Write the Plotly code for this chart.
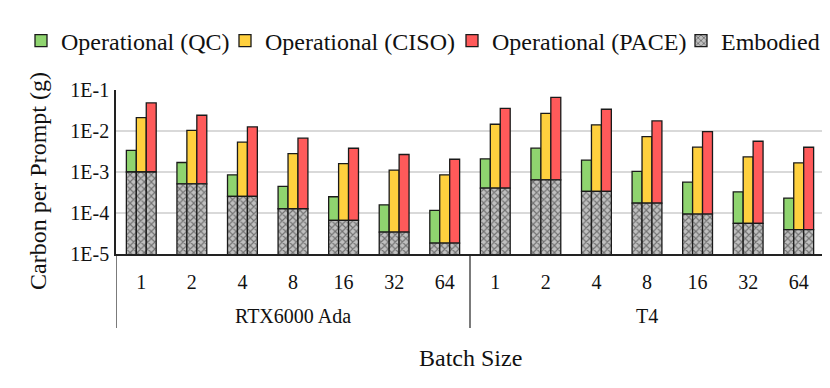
import plotly.graph_objects as go

# GPU / batch size categories
gpus = ["RTX6000 Ada", "T4"]
batch_sizes = ["1", "2", "4", "8", "16", "32", "64"]

# embodied carbon per prompt (g), per batch size
emb_rtx = [1.0e-3, 5.15e-4, 2.54e-4, 1.27e-4, 6.6e-5, 3.43e-5, 1.85e-5]
emb_t4 = [4.04e-4, 6.45e-4, 3.35e-4, 1.74e-4, 9.41e-5, 5.57e-5, 3.91e-5]

# operational carbon per prompt (g), stacked on top of embodied
qc_rtx = [2.37e-3, 1.19e-3, 5.99e-4, 3.17e-4, 1.83e-4, 1.24e-4, 9.75e-5]
qc_t4 = [1.69e-3, 3.16e-3, 1.61e-3, 8.56e-4, 4.72e-4, 2.73e-4, 1.92e-4]
ciso_rtx = [2.02e-2, 9.89e-3, 5.07e-3, 2.69e-3, 1.54e-3, 1.08e-3, 8.35e-4]
ciso_t4 = [1.42e-2, 2.64e-2, 1.38e-2, 7.14e-3, 3.93e-3, 2.28e-3, 1.63e-3]
pace_rtx = [4.73e-2, 2.37e-2, 1.23e-2, 6.54e-3, 3.73e-3, 2.64e-3, 2.03e-3]
pace_t4 = [3.54e-2, 6.58e-2, 3.36e-2, 1.74e-2, 9.59e-3, 5.56e-3, 3.98e-3]

tick_vals = [1e-5, 1e-4, 1e-3, 1e-2, 1e-1]
tick_text = ["1E-5", "1E-4", "1E-3", "1E-2", "1E-1"]

FONT = "Liberation Serif"
# the page body has an 8px margin, so the figure is drawn 8px in from the window corner
OFF = 8
W, H = 830 - OFF, 388 - OFF
L, R, T, B = 116 - OFF, 6, 90 - OFF, 388 - 254
plot_h = H - T - B
plot_w = W - L - R


# convert window pixel positions to paper fractions
def px_x(px):
    return (px - OFF - L) / plot_w


def px_y(py):
    return (H - B - (py - OFF)) / plot_h


n = len(batch_sizes)
xpos = list(range(n * len(gpus)))
emb = emb_rtx + emb_t4

series = [
    ("Operational (QC)", qc_rtx + qc_t4, "#8fd46f"),
    ("Operational (CISO)", ciso_rtx + ciso_t4, "#ffd03e"),
    ("Operational (PACE)", pace_rtx + pace_t4, "#ff5a5a"),
]
# left edge of the text of each legend entry (window px)
legend_text_x = [62, 266, 493, 722]
legend_ids = ["legend", "legend2", "legend3", "legend4"]

fig = go.Figure()

for i, (name, vals, color) in enumerate(series):
    fig.add_trace(go.Bar(
        x=xpos, y=vals, base=emb, name=name, offsetgroup=str(i),
        marker=dict(color=color, line=dict(color="#1a1a1a", width=1.3)),
        legend=legend_ids[i], showlegend=True,
    ))

for i in range(len(series)):
    fig.add_trace(go.Bar(
        x=xpos, y=emb, name="Embodied", offsetgroup=str(i),
        showlegend=(i == 0), legend=legend_ids[3],
        marker=dict(color="#c0c0c0", line=dict(color="#1a1a1a", width=1.3),
                    pattern=dict(shape="x", size=5, solidity=0.4,
                                 fgcolor="#222222", bgcolor="#c0c0c0", fillmode="overlay")),
    ))

legends = {}
for lid, tx in zip(legend_ids, legend_text_x):
    legends[lid] = dict(
        orientation="h", xref="container", yref="container",
        x=(tx - OFF - 41) / W, xanchor="left", y=1 - (42 - OFF - 1) / H, yanchor="middle",
        font=dict(size=24, family=FONT, color="#111111"),
        bgcolor="rgba(0,0,0,0)", borderwidth=0,
    )

# group labels and dividers below the category labels
annotations = [
    dict(text=g, x=(k * n + (n - 1) / 2), xref="x", y=px_y(316), yref="paper",
         yanchor="middle", showarrow=False, font=dict(size=20))
    for k, g in enumerate(gpus)
]
annotations.append(dict(text="Carbon per Prompt (g)", textangle=-90, x=px_x(38), xref="paper",
                        y=px_y(181), yref="paper", xanchor="center", yanchor="middle",
                        showarrow=False, font=dict(size=24)))
annotations.append(dict(text="Batch Size", x=0.5, xref="paper", y=px_y(358), yref="paper",
                        xanchor="center", yanchor="middle", showarrow=False, font=dict(size=24)))

shapes = [
    dict(type="line", x0=k * n - 0.5, x1=k * n - 0.5, xref="x", y0=0, y1=px_y(328), yref="paper",
         line=dict(color="#222222", width=1.2))
    for k in range(len(gpus) + 1)
]

fig.update_layout(
    width=W, height=H, showlegend=True,
    margin=dict(l=L, r=R, t=T, b=B, autoexpand=False),
    plot_bgcolor="white", paper_bgcolor="white",
    font=dict(family=FONT, size=20, color="#111111"),
    barmode="group", bargap=0.41, bargroupgap=0,
    annotations=annotations, shapes=shapes,
    **legends,
)

fig.update_yaxes(
    type="log", range=[-5, -1], tickvals=tick_vals, ticktext=tick_text,
    showgrid=True, gridcolor="#d9d9d9", gridwidth=1.5,
    showline=True, linecolor="#222222", linewidth=1.5,
    ticks="", ticklabelstandoff=1, automargin=False,
)

fig.update_xaxes(
    range=[-0.5, len(xpos) - 0.5], tickvals=xpos, ticktext=batch_sizes * len(gpus),
    showline=True, linecolor="#222222", linewidth=1.5, showgrid=False, zeroline=False,
    ticks="", ticklabelstandoff=9, automargin=False,
)

fig.write_html("out.html")
